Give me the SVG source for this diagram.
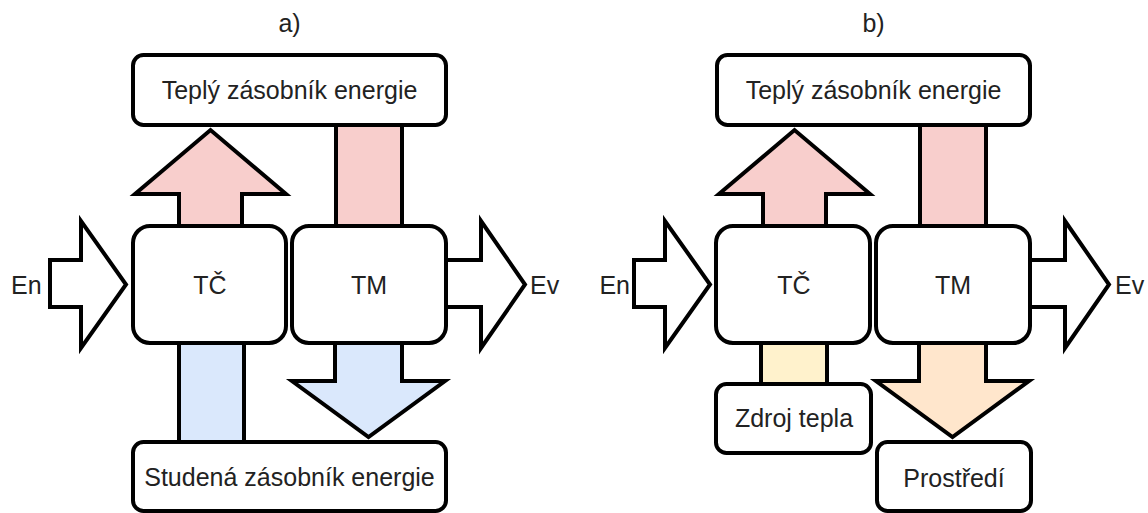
<svg xmlns="http://www.w3.org/2000/svg" width="1148" height="513" viewBox="0 0 1148 513">
<style>
.box{fill:#fff;stroke:#000;stroke-width:4}
.arr{stroke:#000;stroke-width:4;stroke-linejoin:miter;stroke-miterlimit:10}
.pink{fill:#f8cecc}.blue{fill:#dae8fc}.yel{fill:#fff2cc}.ora{fill:#ffe6cc}.white{fill:#fff}
text{font-family:"Liberation Sans",Arial,sans-serif;font-size:25px;fill:#222}
.c{text-anchor:middle}
</style>
<rect width="1148" height="513" fill="#fff"/>
<text class="c" x="289.5" y="32">a)</text>
<text class="c" x="873.5" y="32">b)</text>
<g id="connectors">
  <!-- panel a -->
  <polygon class="arr pink" points="179,226 179,194 135,194 210.5,130 286,194 242,194 242,226"/>
  <rect class="arr pink" x="336" y="125" width="66" height="101"/>
  <rect class="arr blue" x="179" y="343" width="65" height="99"/>
  <polygon class="arr blue" points="335,343 335,381 292,381 368.5,437 445,381 402,381 402,343"/>
  <polygon class="arr white" points="50,260 81,260 81,221 126,284.5 81,348 81,307 50,307"/>
  <polygon class="arr white" points="446,260 481,260 481,221 525,284.5 481,348 481,307 446,307"/>
  <!-- panel b -->
  <polygon class="arr pink" points="763,226 763,194 719,194 794.5,130 870,194 826,194 826,226"/>
  <rect class="arr pink" x="920" y="125" width="66" height="101"/>
  <rect class="arr yel" x="761" y="343" width="66" height="41"/>
  <polygon class="arr ora" points="919,343 919,381 876,381 952.5,437 1029,381 986,381 986,343"/>
  <polygon class="arr white" points="634,260 665,260 665,221 710,284.5 665,348 665,307 634,307"/>
  <polygon class="arr white" points="1030,260 1065,260 1065,221 1109,284.5 1065,348 1065,307 1030,307"/>
</g>
<g id="a-teply"><rect class="box" x="133" y="55" width="313" height="70" rx="10.5"/><text class="c" x="289.5" y="99">Teplý zásobník energie</text></g>
<g id="a-tc"><rect class="box" x="133" y="226" width="153" height="117" rx="17"/><text class="c" x="210" y="294">TČ</text></g>
<g id="a-tm"><rect class="box" x="292" y="226" width="154" height="117" rx="17"/><text class="c" x="369" y="294">TM</text></g>
<g id="a-studena"><rect class="box" x="133" y="442" width="313" height="69" rx="10.5"/><text class="c" x="289.5" y="486">Studená zásobník energie</text></g>
<g id="a-en"><text x="11" y="294">En</text></g>
<g id="a-ev"><text x="530" y="294">Ev</text></g>
<g id="b-teply"><rect class="box" x="717" y="55" width="313" height="70" rx="10.5"/><text class="c" x="873.5" y="99">Teplý zásobník energie</text></g>
<g id="b-tc"><rect class="box" x="716" y="226" width="154" height="117" rx="17"/><text class="c" x="794" y="294">TČ</text></g>
<g id="b-tm"><rect class="box" x="876" y="226" width="154" height="117" rx="17"/><text class="c" x="953" y="294">TM</text></g>
<g id="b-zdroj"><rect class="box" x="716" y="384" width="155" height="69" rx="10.5"/><text class="c" x="794" y="427">Zdroj tepla</text></g>
<g id="b-prostredi"><rect class="box" x="877" y="442" width="154" height="69" rx="10.5"/><text class="c" x="954" y="487">Prostředí</text></g>
<g id="b-en"><text x="630" y="294" text-anchor="end">En</text></g>
<g id="b-ev"><text x="1115" y="294">Ev</text></g>
</svg>
